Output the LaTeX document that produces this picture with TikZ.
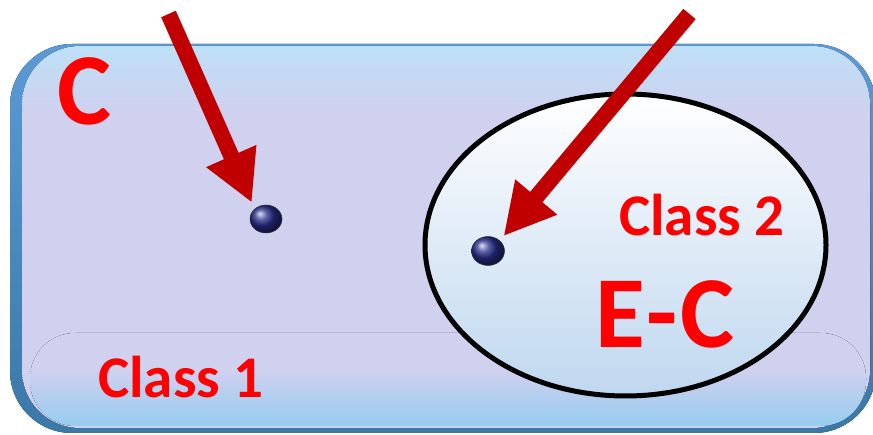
\documentclass[tikz,border=0pt]{standalone}
\usepackage{fontspec}
\setmainfont{Carlito}
\usetikzlibrary{arrows.meta,shapes.geometric}
\definecolor{lav}{HTML}{D0D0EF}
\definecolor{topblue}{HTML}{BDE0F6}
\definecolor{botblue}{HTML}{96CDF0}
\definecolor{bandtop}{HTML}{5B9AD6}
\definecolor{bandbot}{HTML}{3A78A8}
\definecolor{arrowred}{HTML}{C00000}
\definecolor{textred}{HTML}{FF0000}
\definecolor{ballblue}{HTML}{2A2E8E}
\definecolor{ellbot}{HTML}{BFD7EF}
\pgfdeclareverticalshading{innersh}{100bp}{color(0bp)=(lav); color(66bp)=(lav); color(75bp)=(topblue); color(100bp)=(topblue)}
\pgfdeclareverticalshading{botsh}{100bp}{color(0bp)=(botblue); color(25bp)=(botblue); color(55bp)=(lav); color(100bp)=(lav)}
\begin{document}
\begin{tikzpicture}[x=1pt,y=1pt,
 bigtext/.style={text=textred, font=\bfseries\fontsize{102}{102}\selectfont, inner sep=0, anchor=base west},
 midtext/.style={text=textred, font=\bfseries\fontsize{59}{59}\selectfont, inner sep=0, anchor=base west},
 dotball/.style={ellipse, inner sep=0, outer sep=0, minimum width=32, minimum height=28, ball color=ballblue, draw=black!80, line width=0.5pt},
 redarrow/.style={draw=arrowred, line width=16pt, -{Triangle[length=51pt,width=51pt]}}]
\useasboundingbox (0,0) rectangle (873,435);
\fill[white] (0,0) rectangle (873,435);
\fill[top color=bandtop, bottom color=bandbot, rounded corners=62] (10,2) rectangle (876,391);
\fill[shading=innersh, rounded corners=58] (22,7) rectangle (870,389);
\fill[shading=botsh, rounded corners=45] (30,9) rectangle (866,102);
\node[draw, ellipse, line width=5pt, minimum width=401, minimum height=302, top color=white, bottom color=ellbot, inner sep=0] (ell) at (625.5,190) {};
\node[dotball] (d1) at (266,216) {};
\node[dotball, minimum width=33, minimum height=29] (d2) at (488,184) {};
\coordinate (a1) at (168.5,421);
\coordinate (a2) at (689.5,421);
\draw[redarrow, shorten >=7pt] (a1) -- (d1.north west);
\draw[redarrow, shorten >=6pt] (a2) -- (d2.north east);
\node[bigtext] (ct) at (57,310) {C};
\node[bigtext] (ect) at (595,87) {E\kern2pt-\kern2pt C};
\node[midtext] (c1) at (98,37) {Class 1};
\node[midtext] (c2) at (619,199) {Class 2};
\end{tikzpicture}
\end{document}
